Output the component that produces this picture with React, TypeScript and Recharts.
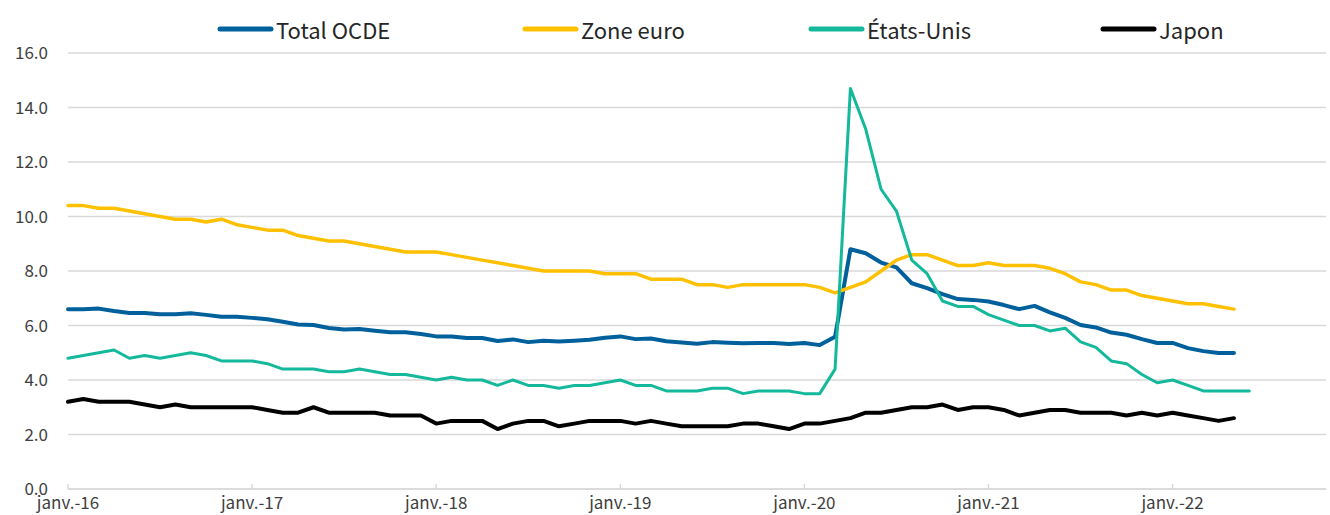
import React from "react";
import { LineChart, Line, XAxis, YAxis, CartesianGrid, Legend } from "recharts";

// Taux de chômage (%), mensuel, janv. 2016 -> juin 2022
const MONTHS = ["janv.", "févr.", "mars", "avr.", "mai", "juin", "juil.", "août", "sept.", "oct.", "nov.", "déc."];
const YEARS = ["16", "17", "18", "19", "20", "21", "22"];
const LAST_MONTH_22 = 10; // axis runs through nov.-22

const totalOCDE = [
  6.6, 6.6, 6.62, 6.53, 6.46, 6.46, 6.41, 6.41, 6.45, 6.39, 6.32, 6.32,
  6.28, 6.23, 6.14, 6.04, 6.02, 5.91, 5.85, 5.87, 5.81, 5.75, 5.75, 5.69,
  5.6, 5.6, 5.54, 5.54, 5.43, 5.49, 5.39, 5.44, 5.41, 5.44, 5.48, 5.55,
  5.6, 5.5, 5.52, 5.42, 5.38, 5.33, 5.39, 5.37, 5.35, 5.36, 5.36, 5.32,
  5.36, 5.28, 5.59, 8.8, 8.65, 8.31, 8.13, 7.55, 7.37, 7.15, 6.97, 6.94,
  6.88, 6.75, 6.6, 6.72, 6.48, 6.28, 6.02, 5.93, 5.74, 5.66, 5.5, 5.36,
  5.36, 5.17, 5.06, 4.99, 4.99,
];

const zoneEuro = [
  10.4, 10.4, 10.3, 10.3, 10.2, 10.1, 10.0, 9.9, 9.9, 9.8, 9.9, 9.7,
  9.6, 9.5, 9.5, 9.3, 9.2, 9.1, 9.1, 9.0, 8.9, 8.8, 8.7, 8.7,
  8.7, 8.6, 8.5, 8.4, 8.3, 8.2, 8.1, 8.0, 8.0, 8.0, 8.0, 7.9,
  7.9, 7.9, 7.7, 7.7, 7.7, 7.5, 7.5, 7.4, 7.5, 7.5, 7.5, 7.5,
  7.5, 7.4, 7.2, 7.4, 7.6, 8.0, 8.4, 8.6, 8.6, 8.4, 8.2, 8.2,
  8.3, 8.2, 8.2, 8.2, 8.1, 7.9, 7.6, 7.5, 7.3, 7.3, 7.1, 7.0,
  6.9, 6.8, 6.8, 6.7, 6.6,
];

const etatsUnis = [
  4.8, 4.9, 5.0, 5.1, 4.8, 4.9, 4.8, 4.9, 5.0, 4.9, 4.7, 4.7,
  4.7, 4.6, 4.4, 4.4, 4.4, 4.3, 4.3, 4.4, 4.3, 4.2, 4.2, 4.1,
  4.0, 4.1, 4.0, 4.0, 3.8, 4.0, 3.8, 3.8, 3.7, 3.8, 3.8, 3.9,
  4.0, 3.8, 3.8, 3.6, 3.6, 3.6, 3.7, 3.7, 3.5, 3.6, 3.6, 3.6,
  3.5, 3.5, 4.4, 14.7, 13.2, 11.0, 10.2, 8.4, 7.9, 6.9, 6.7, 6.7,
  6.4, 6.2, 6.0, 6.0, 5.8, 5.9, 5.4, 5.2, 4.7, 4.6, 4.2, 3.9,
  4.0, 3.8, 3.6, 3.6, 3.6, 3.6,
];

const japon = [
  3.2, 3.3, 3.2, 3.2, 3.2, 3.1, 3.0, 3.1, 3.0, 3.0, 3.0, 3.0,
  3.0, 2.9, 2.8, 2.8, 3.0, 2.8, 2.8, 2.8, 2.8, 2.7, 2.7, 2.7,
  2.4, 2.5, 2.5, 2.5, 2.2, 2.4, 2.5, 2.5, 2.3, 2.4, 2.5, 2.5,
  2.5, 2.4, 2.5, 2.4, 2.3, 2.3, 2.3, 2.3, 2.4, 2.4, 2.3, 2.2,
  2.4, 2.4, 2.5, 2.6, 2.8, 2.8, 2.9, 3.0, 3.0, 3.1, 2.9, 3.0,
  3.0, 2.9, 2.7, 2.8, 2.9, 2.9, 2.8, 2.8, 2.8, 2.7, 2.8, 2.7,
  2.8, 2.7, 2.6, 2.5, 2.6,
];

const Y_TICKS = [0, 2, 4, 6, 8, 10, 12, 14, 16];

const categories: string[] = [];
YEARS.forEach((yy) => {
  MONTHS.forEach((m, mi) => {
    if (yy === "22" && mi > LAST_MONTH_22) return;
    categories.push(`${m}-${yy}`);
  });
});

const data = categories.map((mois, i) => ({
  mois,
  ocde: totalOCDE[i] ?? null,
  euro: zoneEuro[i] ?? null,
  us: etatsUnis[i] ?? null,
  jp: japon[i] ?? null,
}));

const SERIES = [
  { key: "ocde", name: "Total OCDE", color: "#00609c", width: 4 },
  { key: "euro", name: "Zone euro", color: "#ffc000", width: 3.5 },
  { key: "us", name: "États-Unis", color: "#14b99b", width: 3 },
  { key: "jp", name: "Japon", color: "#000000", width: 4 },
];

const LEGEND_LEFT = [217, 522, 808, 1100];
const FONT = "'Noto Sans CJK JP', 'Noto Sans', sans-serif";
const TICK_MARGIN = 6;

const XTick = (props: any) => {
  const { x, y, payload } = props;
  const axisY = y - TICK_MARGIN;
  return (
    <g>
      <line x1={x} x2={x} y1={axisY - 5} y2={axisY} stroke="#d9d9d9" strokeWidth={1.5} />
      <text x={x} y={y} dy={14} textAnchor="middle" fill="#404040" fontSize={17} fontFamily={FONT}>
        {payload.value}
      </text>
    </g>
  );
};

const LegendContent = () => (
  <div style={{ position: "relative", height: 34, width: 1330 }}>
    {SERIES.map((s, i) => (
      <div
        key={s.key}
        style={{
          position: "absolute",
          left: LEGEND_LEFT[i],
          top: 0,
          display: "flex",
          alignItems: "center",
          fontFamily: FONT,
          fontSize: 22,
          color: "#262626",
          whiteSpace: "nowrap",
        }}
      >
        <svg width={57} height={10} style={{ marginRight: 2 }}>
          <line x1={3} x2={54} y1={5} y2={5} stroke={s.color} strokeWidth={5} strokeLinecap="round" />
        </svg>
        {s.name}
      </div>
    ))}
  </div>
);

const App = () => {
  return (
    <div style={{ position: "absolute", left: 0, top: 0, background: "#fff" }}>
      <LineChart width={1330} height={515} data={data} margin={{ top: 53, right: 4, bottom: 0, left: 0 }}>
        <CartesianGrid vertical={false} stroke="#d9d9d9" strokeWidth={1.3} />
        <XAxis
          dataKey="mois"
          interval={11}
          height={26}
          tickSize={0}
          tickMargin={TICK_MARGIN}
          tick={<XTick />}
          axisLine={{ stroke: "#d9d9d9", strokeWidth: 1.5 }}
        />
        <YAxis
          width={68}
          domain={[0, 16]}
          ticks={Y_TICKS}
          tickFormatter={(v: number) => v.toFixed(1)}
          axisLine={false}
          tickLine={false}
          tickSize={0}
          tickMargin={20}
          tick={{ fill: "#404040", fontSize: 17, fontFamily: FONT }}
        />
        <Legend
          layout="horizontal"
          verticalAlign="middle"
          align="center"
          wrapperStyle={{ top: 13, left: 0 }}
          content={<LegendContent />}
        />
        {SERIES.map((s) => (
          <Line
            key={s.key}
            type="linear"
            dataKey={s.key}
            name={s.name}
            stroke={s.color}
            strokeWidth={s.width}
            dot={false}
            connectNulls={false}
            strokeLinejoin="round"
            strokeLinecap="round"
            isAnimationActive={false}
          />
        ))}
      </LineChart>
    </div>
  );
};

export default App;
